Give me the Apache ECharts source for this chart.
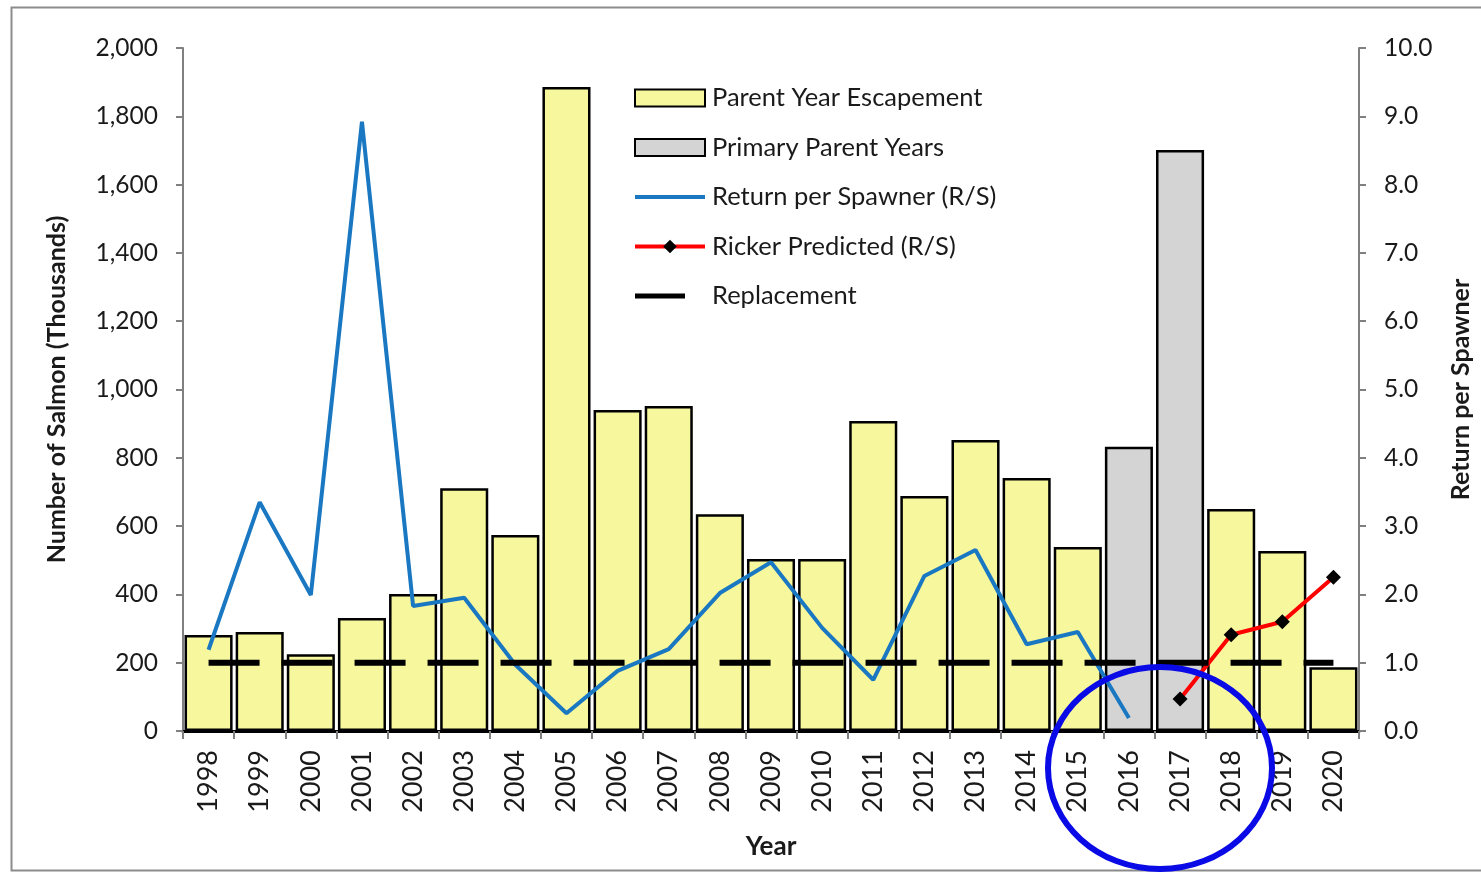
<!DOCTYPE html>
<html>
<head>
<meta charset="utf-8">
<script src="https://cdn.jsdelivr.net/npm/echarts@6/dist/echarts.min.js"></script>
<style>
  html, body { margin: 0; padding: 0; background: #fff; }
  #chart { width: 1481px; height: 872px; }
</style>
</head>
<body>
<div id="chart"></div>
<script>
// years on the x axis
var years = ['1998','1999','2000','2001','2002','2003','2004','2005','2006','2007','2008',
  '2009','2010','2011','2012','2013','2014','2015','2016','2017','2018','2019','2020'];

// parent year escapement (thousands)
var escapement = [281, 290, 225, 331, 401, 711, 574, 1886, 940, 952, 635,
  504, 504, 908, 688, 852, 741, 539, 832, 1701, 650, 527, 187];

// years drawn grey
var primaryYears = ['2016', '2017'];

// return per spawner (R/S)
var returnPerSpawner = [1.19, 3.35, 1.99, 8.92, 1.83, 1.95, 0.97, 0.26, 0.88, 1.2, 2.02,
  2.47, 1.51, 0.75, 2.27, 2.65, 1.27, 1.45, 0.19, null, null, null, null];

// ricker predicted (R/S)
var rickerPredicted = [null, null, null, null, null, null, null, null, null, null, null,
  null, null, null, null, null, null, null, null, 0.47, 1.41, 1.6, 2.25];

// replacement level
var replacement = years.map(function () { return 1.0; });

var yellowData = escapement.map(function (v, i) {
  return primaryYears.indexOf(years[i]) >= 0 ? null : v;
});
var greyData = escapement.map(function (v, i) {
  return primaryYears.indexOf(years[i]) >= 0 ? v : null;
});

var font = 'Lato, "Open Sans", sans-serif';
var chart = echarts.init(document.getElementById('chart'));

// legend line icons (plain thick strokes like the original)
var fullLineIcon = 'path://M0,0M70,17M0,6.5H70V10.5H0Z';
var shortLineIcon = 'path://M0,0M70,17M0,6H50V11H0Z';

var option = {
  animation: false,
  grid: { left: 183, right: 119, top: 48, bottom: 141 },
  legend: {
    orient: 'vertical',
    left: 633,
    top: 85,
    padding: 0,
    itemWidth: 70,
    itemHeight: 17,
    itemGap: 23.5,
    textStyle: { fontFamily: font, fontSize: 25.5, color: '#1a1a1a', padding: [0, 0, 0, 2] },
    data: [
      { name: 'Parent Year Escapement', icon: 'rect' },
      { name: 'Primary Parent Years', icon: 'rect' },
      { name: 'Return per Spawner (R/S)', icon: fullLineIcon },
      { name: 'Ricker Predicted (R/S)', lineStyle: { width: 4 } },
      { name: 'Replacement', icon: shortLineIcon }
    ]
  },
  xAxis: [{
    type: 'category',
    data: years,
    name: 'Year',
    nameLocation: 'middle',
    nameGap: 103,
    nameTextStyle: { fontFamily: font, fontSize: 26, fontWeight: 'bold', color: '#1a1a1a' },
    axisLine: { lineStyle: { color: '#808080', width: 2 } },
    axisTick: { show: true, length: 8, lineStyle: { color: '#808080', width: 2 } },
    axisLabel: { rotate: 90, margin: 19, fontFamily: font, fontSize: 27, color: '#1a1a1a' }
  }, {
    type: 'category',
    data: years,
    position: 'top',
    axisLine: { lineStyle: { color: '#000', width: 3 } },
    axisTick: { show: false },
    axisLabel: { show: false }
  }],
  yAxis: [{
    type: 'value',
    min: 0, max: 2000, interval: 200,
    name: 'Number of Salmon (Thousands)',
    nameLocation: 'middle',
    nameGap: 114,
    nameTextStyle: { fontFamily: font, fontSize: 25, fontWeight: 'bold', color: '#1a1a1a' },
    splitLine: { show: false },
    axisLine: { show: true, lineStyle: { color: '#808080', width: 2 } },
    axisTick: { show: true, length: 7, lineStyle: { color: '#808080', width: 2 } },
    axisLabel: {
      margin: 25, fontFamily: font, fontSize: 24.5, color: '#1a1a1a',
      formatter: function (v) { return v.toLocaleString('en-US'); }
    }
  }, {
    type: 'value',
    min: 0, max: 10, interval: 1,
    name: 'Return per Spawner',
    nameLocation: 'middle',
    nameGap: 89,
    nameTextStyle: { fontFamily: font, fontSize: 25, fontWeight: 'bold', color: '#1a1a1a' },
    splitLine: { show: false },
    axisLine: { show: true, lineStyle: { color: '#808080', width: 2 } },
    axisTick: { show: true, length: 7, lineStyle: { color: '#808080', width: 2 } },
    axisLabel: {
      margin: 25, fontFamily: font, fontSize: 24.5, color: '#1a1a1a',
      formatter: function (v) { return v.toFixed(1); }
    }
  }],
  series: [{
    name: 'Parent Year Escapement',
    type: 'bar',
    data: yellowData,
    barCategoryGap: '6%',
    barGap: '-100%',
    itemStyle: { color: '#f7f79e', borderColor: '#000', borderWidth: 2.5 }
  }, {
    name: 'Primary Parent Years',
    type: 'bar',
    data: greyData,
    barCategoryGap: '6%',
    barGap: '-100%',
    itemStyle: { color: '#d4d4d4', borderColor: '#000', borderWidth: 2.5 }
  }, {
    name: 'Return per Spawner (R/S)',
    type: 'line',
    yAxisIndex: 1,
    data: returnPerSpawner,
    symbol: 'none',
    lineStyle: { color: '#1a78c2', width: 4 },
    itemStyle: { color: '#1a78c2' }
  }, {
    name: 'Ricker Predicted (R/S)',
    type: 'line',
    yAxisIndex: 1,
    data: rickerPredicted,
    symbol: 'diamond',
    symbolSize: 15,
    lineStyle: { color: '#ff0000', width: 4 },
    itemStyle: { color: '#000' }
  }, {
    name: 'Replacement',
    type: 'line',
    yAxisIndex: 1,
    data: replacement,
    symbol: 'none',
    z: 5,
    lineStyle: { color: '#000', width: 6, type: [51, 22] },
    itemStyle: { color: '#000' }
  }],
  graphic: [{
    type: 'rect',
    left: 9, top: 5,
    shape: { width: 1490, height: 863 },
    style: { fill: null, stroke: '#8c8c8c', lineWidth: 2 },
    silent: true
  }, {
    type: 'ellipse',
    shape: { cx: 1160, cy: 768, rx: 112, ry: 101 },
    style: { fill: null, stroke: '#0a0ae6', lineWidth: 6 },
    z: 100,
    silent: true
  }]
};

chart.setOption(option);
</script>
</body>
</html>
